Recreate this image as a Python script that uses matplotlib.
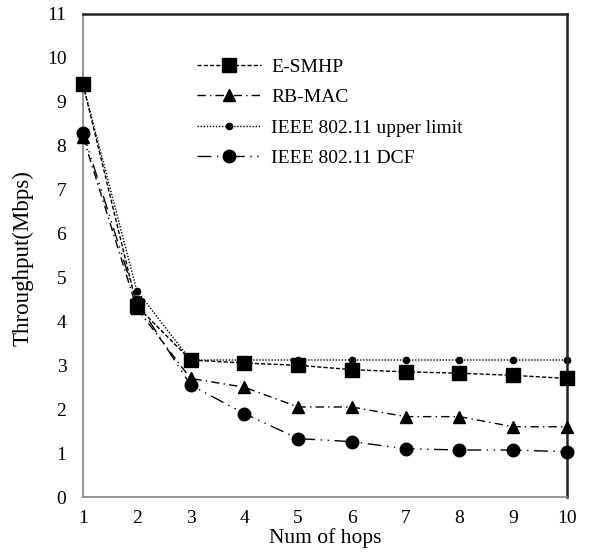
import matplotlib
matplotlib.use('Agg')
import matplotlib.pyplot as plt

# --- Data ---
hops = [1, 2, 3, 4, 5, 6, 7, 8, 9, 10]
e_smhp = [9.4, 4.35, 3.12, 3.05, 3.0, 2.9, 2.85, 2.82, 2.77, 2.7]
rb_mac = [8.2, 4.3, 2.7, 2.5, 2.05, 2.05, 1.83, 1.83, 1.6, 1.6]
upper_limit = [9.4, 4.7, 3.12, 3.12, 3.12, 3.12, 3.12, 3.12, 3.12, 3.12]
dcf = [8.3, 4.45, 2.55, 1.9, 1.33, 1.26, 1.1, 1.07, 1.07, 1.03]

y_ticks = list(range(0, 12))

plt.rcParams['font.family'] = 'Liberation Serif'
plt.rcParams['axes.unicode_minus'] = False

fig = plt.figure(figsize=(5.9, 5.55), dpi=100)
ax = fig.add_axes([0.1407, 0.1045, 0.8203, 0.8703])

ax.plot(hops, e_smhp, color='black', lw=1.0, ls=(0, (3, 1.5)),
        marker='s', ms=10, clip_on=False, label='E-SMHP', zorder=4)
ax.plot(hops, rb_mac, color='black', lw=1.0, ls=(0, (6, 3, 1, 3)),
        marker='^', ms=9, clip_on=False, label='RB-MAC', zorder=3)
ax.plot(hops, upper_limit, color='black', lw=1.0, ls=(0, (1, 1.2)),
        marker='o', ms=4.5, clip_on=False, label='IEEE 802.11 upper limit', zorder=2)
ax.plot(hops, dcf, color='black', lw=1.0, ls=(0, (10, 4, 1, 4, 1, 4)),
        marker='o', ms=9, clip_on=False, label='IEEE 802.11 DCF', zorder=3)

ax.set_xlim(1, 10)
ax.set_ylim(0, 11)
ax.set_xticks(hops)
ax.set_yticks(y_ticks)
ax.tick_params(axis='both', length=0, labelsize=14)
ax.tick_params(axis='x', pad=9)
ax.tick_params(axis='y', pad=12)

for side in ['left', 'bottom']:
    ax.spines[side].set_color('#808080')
    ax.spines[side].set_linewidth(1.2)
for side in ['top', 'right']:
    ax.spines[side].set_color('#222222')
    ax.spines[side].set_linewidth(1.8)

ax.set_xlabel('Num of hops', fontsize=15.5, labelpad=1)
ax.set_ylabel('Throughput(Mbps)', fontsize=16.5)
ax.yaxis.set_label_coords(-0.103, 0.495)

ax.legend(loc='upper left', bbox_to_anchor=(0.2, 0.945), frameon=False,
          fontsize=14, handlelength=3.3, labelspacing=0.66, handletextpad=0.5)

plt.savefig('out.png', dpi=100)
